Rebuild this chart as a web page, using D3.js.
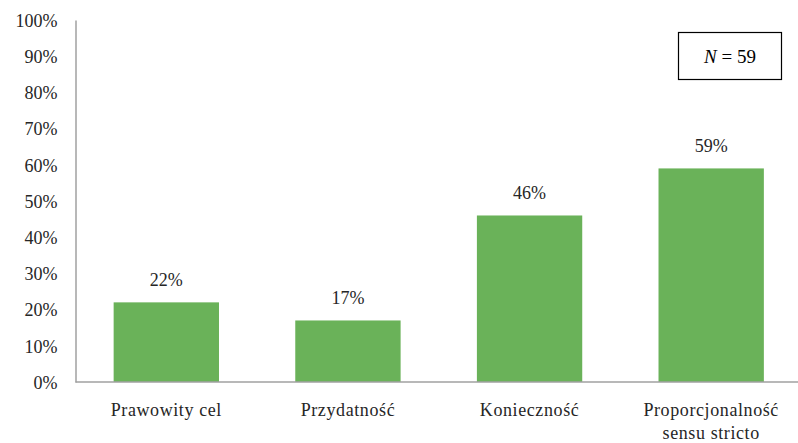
<!DOCTYPE html>
<html lang="pl">
<head>
  <meta charset="UTF-8">
  <title>Chart</title>
  <style>
    body { margin:0; background:#fff; overflow:hidden; }
    #chart { display:block; }
    #chart text { font-family:"Liberation Serif","DejaVu Serif","Times New Roman",serif; fill:#262626; }
  </style>
</head>
<body>
  <svg id="chart" width="798" height="443"></svg>
  <script src="https://d3js.org/d3.v7.min.js"></script>
  <script>
    const categories = [['Prawowity cel'], ['Przydatność'], ['Konieczność'], ['Proporcjonalność', 'sensu stricto']];
    const values = [22, 17, 46, 59];
    const yTicks = [0, 10, 20, 30, 40, 50, 60, 70, 80, 90, 100];
    const sampleSize = 59;

    const svg = d3.select('#chart');
    const plotLeft = 75.5, plotRight = 802, plotTop = 20, plotBottom = 382;
    const serif = '"Liberation Serif","DejaVu Serif",serif';

    const x = d3.scaleBand().domain(d3.range(values.length)).range([plotLeft, plotRight]).paddingInner(0.42).paddingOuter(0.21);
    const y = d3.scaleLinear().domain([0, 100]).range([plotBottom, plotTop]);

    // bars
    svg.selectAll('rect.bar').data(values).join('rect')
      .attr('class', 'bar')
      .attr('x', (d, i) => x(i))
      .attr('y', d => y(d))
      .attr('width', x.bandwidth())
      .attr('height', d => y(0) - y(d))
      .attr('fill', '#6ab259');

    // value labels
    svg.selectAll('text.val').data(values).join('text')
      .attr('class', 'val')
      .attr('x', (d, i) => x(i) + x.bandwidth() / 2)
      .attr('y', d => y(d) - 16)
      .attr('text-anchor', 'middle')
      .style('font-family', serif)
      .style('font-size', '18px')
      .text(d => d + '%');

    // y axis
    const yAxis = svg.append('g').attr('transform', `translate(${plotLeft},0)`)
      .call(d3.axisLeft(y).tickValues(yTicks).tickSize(0).tickPadding(18).tickFormat(d => d + '%'));
    yAxis.attr('font-family', null);
    yAxis.select('.domain').attr('stroke', '#a0a0a0').attr('stroke-width', 1.5);
    yAxis.selectAll('text').style('font-size', '18px').style('font-family', serif).attr('fill', '#262626').attr('dy', '0.35em');

    // x axis line
    svg.append('line')
      .attr('x1', plotLeft).attr('x2', 798).attr('y1', plotBottom).attr('y2', plotBottom)
      .attr('stroke', '#a0a0a0').attr('stroke-width', 1.5);

    // category labels
    const cat = svg.selectAll('text.cat').data(categories).join('text')
      .attr('class', 'cat')
      .attr('x', (d, i) => x(i) + x.bandwidth() / 2)
      .attr('y', 416)
      .attr('text-anchor', 'middle')
      .style('font-family', serif)
      .style('font-size', '18px')
      .style('letter-spacing', '0.6px');
    cat.selectAll('tspan').data(d => d).join('tspan')
      .attr('x', function () { return d3.select(this.parentNode).attr('x'); })
      .attr('dy', (d, i) => i === 0 ? 0 : '1.3em')
      .text(d => d);

    // N box
    svg.append('rect')
      .attr('x', 678.5).attr('y', 32.5).attr('width', 103).attr('height', 47)
      .attr('fill', '#fff').attr('stroke', '#000').attr('stroke-width', 1.2);
    const nt = svg.append('text')
      .attr('x', 730).attr('y', 63)
      .attr('text-anchor', 'middle')
      .style('font-family', serif)
      .style('font-size', '19px')
      .style('fill', '#000');
    nt.append('tspan').style('font-style', 'italic').text('N');
    nt.append('tspan').text(' = ' + sampleSize);
  </script>
</body>
</html>
